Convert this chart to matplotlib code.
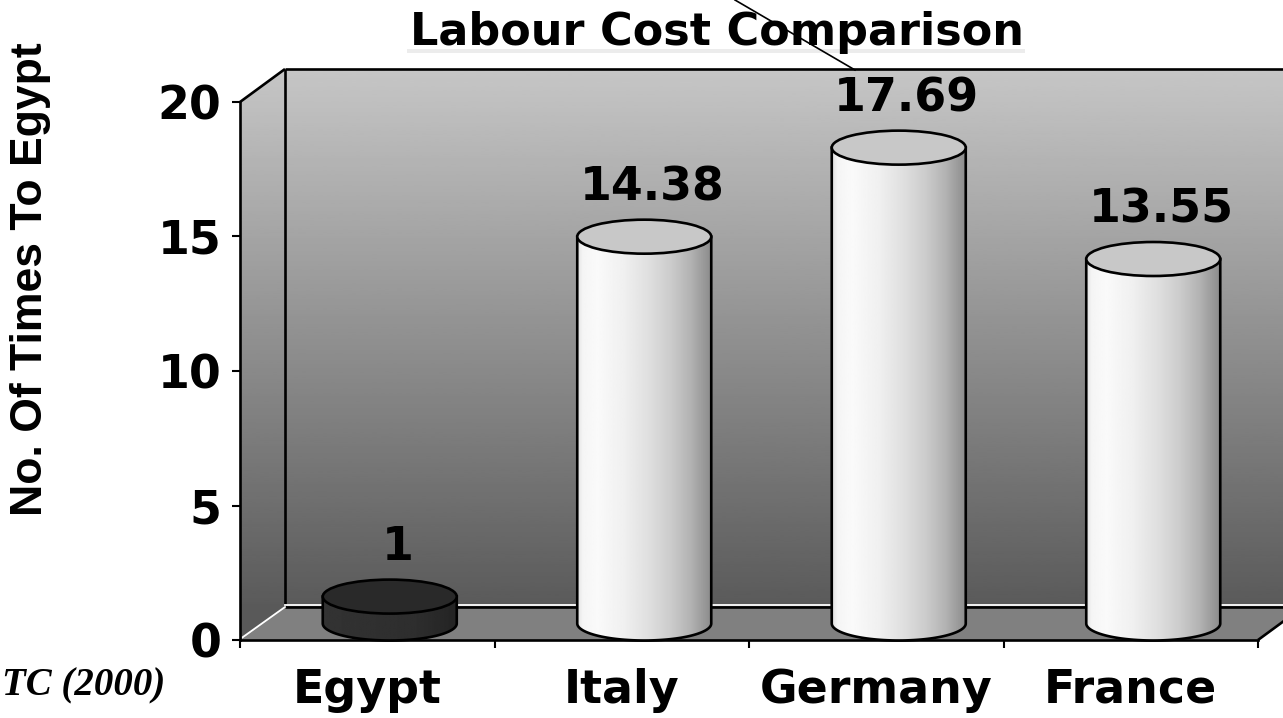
import numpy as np
import matplotlib.pyplot as plt
from matplotlib.patches import Polygon, Ellipse, PathPatch, Rectangle
from matplotlib.path import Path
from matplotlib.lines import Line2D

# Labour cost relative to Egypt
countries = ["Egypt", "Italy", "Germany", "France"]
times_egypt = [1, 14.38, 17.69, 13.55]
value_labels = ["1", "14.38", "17.69", "13.55"]
y_ticks = [0, 5, 10, 15, 20]

W, H = 1283, 718
fig = plt.figure(figsize=(W / 100, H / 100), dpi=100)
fig.patch.set_facecolor("white")

# front plane of the 3D box
ax = fig.add_axes([240 / W, 78 / H, 1018 / W, 538 / H])
ax.patch.set_visible(False)

n = len(countries)
x0, x1 = -0.5, n - 0.5
ymax = 20
dx = 45 / 1018 * n       # depth offset, category units
dy = 33 / 538 * ymax     # depth offset, value units
xr = x1 + dx

LW = 1.9


def shaded(img, extent, clip_path, zorder, **kw):
    # gradient image clipped to a data-space path, free of the axes box
    im = ax.imshow(img, extent=extent, origin="lower", aspect="auto",
                   cmap="gray", vmin=0, vmax=1, zorder=zorder,
                   clip_path=clip_path, **kw)
    im.set_clip_box(fig.bbox)
    return im


# ---- walls (back + left) with vertical grey gradient
grad = np.linspace(0.353, 0.776, 256).reshape(-1, 1)
wall_path = Path([(x0, 0), (x0, ymax), (x0 + dx, ymax + dy), (xr, ymax + dy),
                  (xr, dy), (x0 + dx, dy), (x0, 0)])
shaded(grad, (x0, xr, dy, ymax + dy), PathPatch(wall_path, transform=ax.transData), 0)
shaded(grad[:1], (x0, x0 + dx, 0, dy), PathPatch(wall_path, transform=ax.transData), 0)

# ---- floor
floor = Polygon([(x0, 0), (x1, 0), (xr, dy), (x0 + dx, dy)], closed=True,
                facecolor="#808080", edgecolor="none", zorder=1, clip_on=False)
ax.add_patch(floor)

edge = dict(color="black", lw=LW, zorder=2, clip_on=False, solid_capstyle="butt")
ax.plot([x0, x0 + dx], [ymax, ymax + dy], **edge)
ax.plot([x0 + dx, x0 + dx], [dy, ymax + dy], **edge)
ax.plot([x0 + dx, xr], [ymax + dy, ymax + dy], **edge)
ax.plot([x0 + dx, xr], [dy, dy], **edge)
ax.plot([x1, xr], [0, dy], **edge)
ax.plot([x0 + dx, xr], [dy + 0.09, dy + 0.09], color="white", lw=1.3,
        zorder=2, clip_on=False)
ax.plot([x0 + 0.01, x0 + dx], [0.1, dy], color="white", lw=1.3, zorder=2,
        clip_on=False)

# ---- cylinders
rx = 67 / 1018 * n
ry = 17 / 538 * ymax
base = dy / 2

light = np.interp(np.linspace(0, 1, 200),
                  [0, 0.04, 0.15, 0.35, 0.55, 0.7, 0.85, 0.97, 1.0],
                  [0.88, 0.96, 0.98, 0.94, 0.87, 0.80, 0.70, 0.58, 0.55])
dark = np.interp(np.linspace(0, 1, 200), [0, 0.3, 0.7, 1.0],
                 [0.20, 0.19, 0.18, 0.14])

theta = np.linspace(np.pi, 2 * np.pi, 80)
for i, (v, lab) in enumerate(zip(times_egypt, value_labels)):
    c = i + dx / 2
    top = v + base
    shade, top_col = (dark, "#292929") if i == 0 else (light, "#c8c8c8")

    arc_x = c + rx * np.cos(theta)
    arc_y = base + ry * np.sin(theta)
    outline_x = np.concatenate([[c - rx], arc_x, [c + rx]])
    outline_y = np.concatenate([[top], arc_y, [top]])
    body = Path(np.column_stack([outline_x, outline_y]))
    shaded(shade.reshape(1, -1), (c - rx, c + rx, base - ry, top),
           PathPatch(body, transform=ax.transData), 3,
           interpolation="bilinear")
    ax.plot(outline_x, outline_y, color="black", lw=LW, zorder=4, clip_on=False)
    ax.add_patch(Ellipse((c, top), 2 * rx, 2 * ry, facecolor=top_col,
                         edgecolor="black", lw=LW, zorder=5, clip_on=False))
    ax.annotate(lab, xy=(c, top), xytext=(8, 49), textcoords="offset pixels",
                ha="center", va="center", fontsize=33, fontweight="bold",
                family="DejaVu Sans", zorder=6, annotation_clip=False)

# ---- axes, ticks
ax.set_xlim(x0, x1)
ax.set_ylim(0, ymax)
for s in ("top", "right"):
    ax.spines[s].set_visible(False)
for s in ("left", "bottom"):
    ax.spines[s].set_linewidth(LW)
    ax.spines[s].set_zorder(2)

ax.set_yticks(y_ticks)
ax.set_yticklabels([str(t) for t in y_ticks])
ax.tick_params(axis="y", direction="out", length=6, width=1.5, pad=7.5,
               labelsize=33)
ax.set_xticks(range(n))
ax.set_xticklabels(countries)
ax.set_xticks(np.arange(x0, x1 + 0.5, 1), minor=True)
ax.tick_params(axis="x", which="major", length=0, pad=20, labelsize=33)
ax.tick_params(axis="x", which="minor", direction="out", length=6, width=1.5)
for t in ax.get_xticklabels() + ax.get_yticklabels():
    t.set_fontweight("bold")

# ---- texts around the chart
fig.text(717 / W, 1 - 45 / H, "Labour Cost Comparison", ha="center",
         va="baseline", fontsize=32, fontweight="bold", family="DejaVu Sans")
fig.add_artist(Rectangle((407 / W, 1 - 53 / H), 618 / W, 4 / H,
                         transform=fig.transFigure, facecolor="#ececec",
                         edgecolor="none", zorder=0))
fig.add_artist(Line2D([735 / W, 855 / W], [1.0, 1 - 70 / H],
                      transform=fig.transFigure, color="black", lw=1.2,
                      zorder=10))
fig.text(31 / W, 1 - 279 / H, "No. Of Times To Egypt", rotation=90,
         ha="center", va="center", fontsize=32, fontweight="bold",
         family="Liberation Sans")
fig.text(2 / W, 1 - 695 / H, "TC (2000)", ha="left", va="baseline",
         fontsize=28, fontweight="bold", fontstyle="italic",
         family="Liberation Serif")

fig.savefig("out.png", dpi=100)
